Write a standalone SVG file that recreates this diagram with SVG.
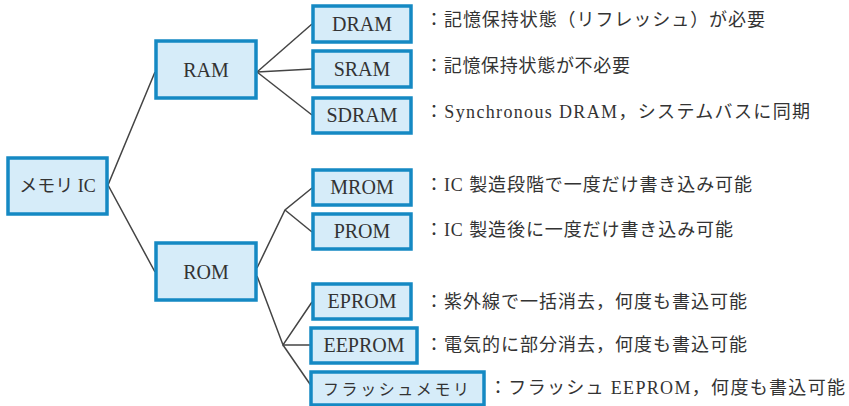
<svg xmlns="http://www.w3.org/2000/svg" width="849" height="406" viewBox="0 0 849 406">
<style>
.box{fill:#d6ecf9;stroke:#1589c3;stroke-width:3.5}
.lbl{font-family:"Liberation Serif","Noto Sans CJK JP",serif;font-size:20px;fill:#333;text-anchor:middle}
.jl{font-family:"Liberation Serif","Noto Sans CJK JP",serif;font-size:16px;fill:#333;text-anchor:middle}
.desc{font-family:"Liberation Serif","Noto Sans CJK JP",serif;font-size:18px;fill:#333}
.con{stroke:#444;stroke-width:1.5;fill:none}
</style>
<rect width="849" height="406" fill="#fff"/>
<g id="connectors">
<polyline class="con" points="155,72 108,185 155,272"/>
<line class="con" x1="257" y1="72" x2="312" y2="24"/>
<line class="con" x1="257" y1="72" x2="312" y2="69"/>
<line class="con" x1="257" y1="72" x2="312" y2="115"/>
<polyline class="con" points="257,268 285,210 312,188"/>
<line class="con" x1="285" y1="210" x2="312" y2="232"/>
<polyline class="con" points="257,276 283,345 312,302"/>
<line class="con" x1="283" y1="345" x2="312" y2="345"/>
<line class="con" x1="283" y1="345" x2="312" y2="387"/>
</g>
<g id="memoryic"><rect class="box" x="8" y="158" width="99" height="56"/><text class="jl" x="57.5" y="192" style="font-size:18px">メモリ IC</text></g>
<g id="ram"><rect class="box" x="156" y="41" width="100" height="57"/><text class="lbl" x="206" y="77">RAM</text></g>
<g id="rom"><rect class="box" x="156" y="243" width="100" height="57"/><text class="lbl" x="206" y="279">ROM</text></g>
<g id="dram"><rect class="box" x="313" y="6" width="98" height="36"/><text class="lbl" x="362" y="31">DRAM</text></g>
<g id="sram"><rect class="box" x="313" y="51" width="98" height="36"/><text class="lbl" x="362" y="76">SRAM</text></g>
<g id="sdram"><rect class="box" x="313" y="98" width="98" height="35"/><text class="lbl" x="362" y="122">SDRAM</text></g>
<g id="mrom"><rect class="box" x="313" y="170" width="98" height="35"/><text class="lbl" x="362" y="194">MROM</text></g>
<g id="prom"><rect class="box" x="313" y="214" width="98" height="35"/><text class="lbl" x="362" y="238">PROM</text></g>
<g id="eprom"><rect class="box" x="313" y="284" width="98" height="35"/><text class="lbl" x="362" y="308">EPROM</text></g>
<g id="eeprom"><rect class="box" x="311" y="328" width="106" height="35"/><text class="lbl" x="364" y="352">EEPROM</text></g>
<g id="flash"><rect class="box" x="311" y="372" width="173" height="33"/><text class="jl" x="396" y="395" textLength="146" lengthAdjust="spacing">フラッシュメモリ</text></g>
<g id="descs">
<text class="desc" x="425" y="26" textLength="340" lengthAdjust="spacing">：記憶保持状態（リフレッシュ）が必要</text>
<text class="desc" x="425" y="72" textLength="205" lengthAdjust="spacing">：記憶保持状態が不必要</text>
<text class="desc" x="425" y="118" textLength="385" lengthAdjust="spacing">：Synchronous DRAM，システムバスに同期</text>
<text class="desc" x="425" y="191" textLength="327" lengthAdjust="spacing">：IC 製造段階で一度だけ書き込み可能</text>
<text class="desc" x="425" y="236" textLength="308" lengthAdjust="spacing">：IC 製造後に一度だけ書き込み可能</text>
<text class="desc" x="425" y="308" textLength="322" lengthAdjust="spacing">：紫外線で一括消去，何度も書込可能</text>
<text class="desc" x="425" y="351" textLength="322" lengthAdjust="spacing">：電気的に部分消去，何度も書込可能</text>
<text class="desc" x="489" y="394" textLength="356" lengthAdjust="spacing">：フラッシュ EEPROM，何度も書込可能</text>
</g>
</svg>
